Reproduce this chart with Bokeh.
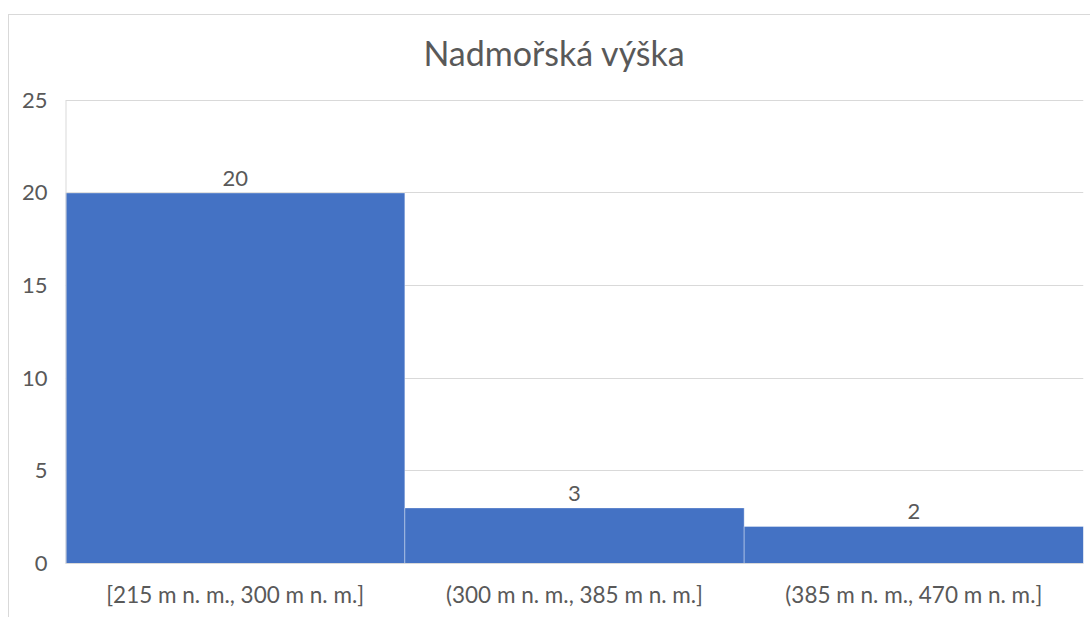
from bokeh.plotting import figure
from bokeh.models import FixedTicker, ColumnDataSource, Range1d
from bokeh.core.properties import value
from bokeh.embed import file_html
from bokeh.resources import INLINE

title = "Nadmořská výška"
bin_left = [215, 300, 385]
bin_right = [300, 385, 470]
counts = [20, 3, 2]
bin_labels = ["[215 m n. m., 300 m n. m.]", "(300 m n. m., 385 m n. m.]", "(385 m n. m., 470 m n. m.]"]
y_ticks = [0, 5, 10, 15, 20, 25]

FONT = "Lato"
TXT = "#595959"
GRID = "#d9d9d9"

centers = [(l + r) / 2 for l, r in zip(bin_left, bin_right)]
src = ColumnDataSource(dict(left=bin_left, right=bin_right, top=counts,
                            x=centers, label=[str(c) for c in counts]))

y_max = y_ticks[-1]
# extra headroom inside the frame for the title (frame top sits at the chart's top border)
y_top = y_max * (564 - 15) / (564 - 100)

p = figure(width=1082, height=603, output_backend="svg", toolbar_location=None,
           x_range=Range1d(bin_left[0], bin_right[-1]), y_range=Range1d(0, y_top),
           min_border_left=56, min_border_right=8, min_border_top=0, min_border_bottom=55,
           margin=(14, 0, 0, 8),
           styles={"border-left": "1px solid #d9d9d9", "border-top": "1px solid #d9d9d9"})
p.outline_line_color = None
p.background_fill_color = "white"
p.border_fill_color = "white"

p.quad(left="left", right="right", top="top", bottom=0, source=src,
       fill_color="#4472C4", line_color="white", line_alpha=0.35, line_width=1)

p.text(x="x", y="top", text="label", source=src, text_align="center", text_baseline="bottom",
       y_offset=-7, text_font=value(FONT), text_font_size="22px", text_color=TXT)

# vertical axis line only up to the top tick
p.segment(x0=[bin_left[0]], y0=[0], x1=[bin_left[0]], y1=[y_max], line_color=GRID, line_width=2)

# chart title
p.text(x=[(bin_left[0] + bin_right[-1]) / 2], y=[y_max], text=[title], x_offset=-20, y_offset=-48,
       text_align="center", text_baseline="middle", text_font=value(FONT),
       text_font_size="34px", text_color=TXT)

p.xgrid.visible = False
p.ygrid.grid_line_color = GRID
p.ygrid.grid_line_width = 1
p.yaxis.ticker = FixedTicker(ticks=y_ticks)
p.xaxis.ticker = FixedTicker(ticks=centers)
p.xaxis.major_label_overrides = {c: lab for c, lab in zip(centers, bin_labels)}

for ax in (p.xaxis[0], p.yaxis[0]):
    ax.axis_line_color = GRID
    ax.major_tick_line_color = None
    ax.minor_tick_line_color = None
    ax.major_label_text_font = FONT
    ax.major_label_text_font_size = "22px"
    ax.major_label_text_color = TXT
p.yaxis.axis_line_color = None
p.xaxis.major_label_text_font_size = "22.5px"
p.xaxis.major_label_standoff = 11
p.yaxis.major_label_standoff = 12

open("out.html", "w").write(file_html(p, INLINE))
